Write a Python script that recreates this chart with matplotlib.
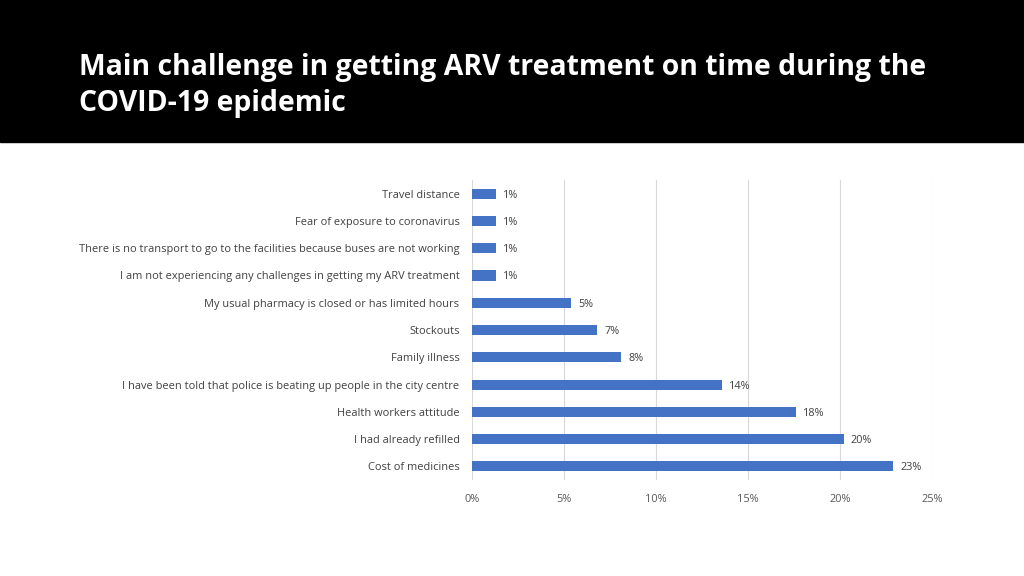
import matplotlib.pyplot as plt
import numpy as np

categories = [
    "Travel distance",
    "Fear of exposure to coronavirus",
    "There is no transport to go to the facilities because buses are not working",
    "I am not experiencing any challenges in getting my ARV treatment",
    "My usual pharmacy is closed or has limited hours",
    "Stockouts",
    "Family illness",
    "I have been told that police is beating up people in the city centre",
    "Health workers attitude",
    "I had already refilled",
    "Cost of medicines",
]
values = [1.3, 1.3, 1.3, 1.3, 5.4, 6.8, 8.1, 13.6, 17.6, 20.2, 22.9]
xticks = [0, 5, 10, 15, 20, 25]

plt.rcParams['font.family'] = ['Open Sans', 'DejaVu Sans']

fig = plt.figure(figsize=(10.24, 5.76), dpi=100)
fig.patch.set_facecolor('white')

# black header band
fig.patches.append(plt.Rectangle((0, 1 - 142 / 576), 1, 142 / 576,
                                 transform=fig.transFigure, color='black', zorder=0))
fig.text(79 / 1024, 1 - 67 / 576, "Main challenge in getting ARV treatment on time during the",
         color='white', fontsize=20.4, fontweight='bold', va='center', ha='left')
fig.text(79 / 1024, 1 - 103 / 576, "COVID-19 epidemic",
         color='white', fontsize=20.4, fontweight='bold', va='center', ha='left')

ax = fig.add_axes([472 / 1024, 1 - 480 / 576, 460 / 1024, 300 / 576])
y = np.arange(len(categories))
ax.barh(y, values, height=0.37, color='#4472C4', zorder=3)
for yi, v in zip(y, values):
    ax.text(v + 0.38, yi, f"{v:.0f}%", va='center_baseline', ha='left',
            fontsize=7.8, color='#404040')

ax.set_xlim(0, 25)
ax.set_ylim(len(categories) - 0.5, -0.5)
ax.set_yticks(y)
ax.set_yticklabels(categories, fontsize=7.9, color='#404040')
ax.set_xticks(xticks)
ax.set_xticklabels([f"{t}%" for t in xticks], fontsize=7.9, color='#595959')
ax.tick_params(axis='both', length=0)
ax.tick_params(axis='y', pad=9)
ax.tick_params(axis='x', pad=10)
ax.grid(axis='x', color='#d9d9d9', linewidth=0.8, zorder=0)
for s in ax.spines.values():
    s.set_visible(False)

fig.savefig("out.png", dpi=100)
